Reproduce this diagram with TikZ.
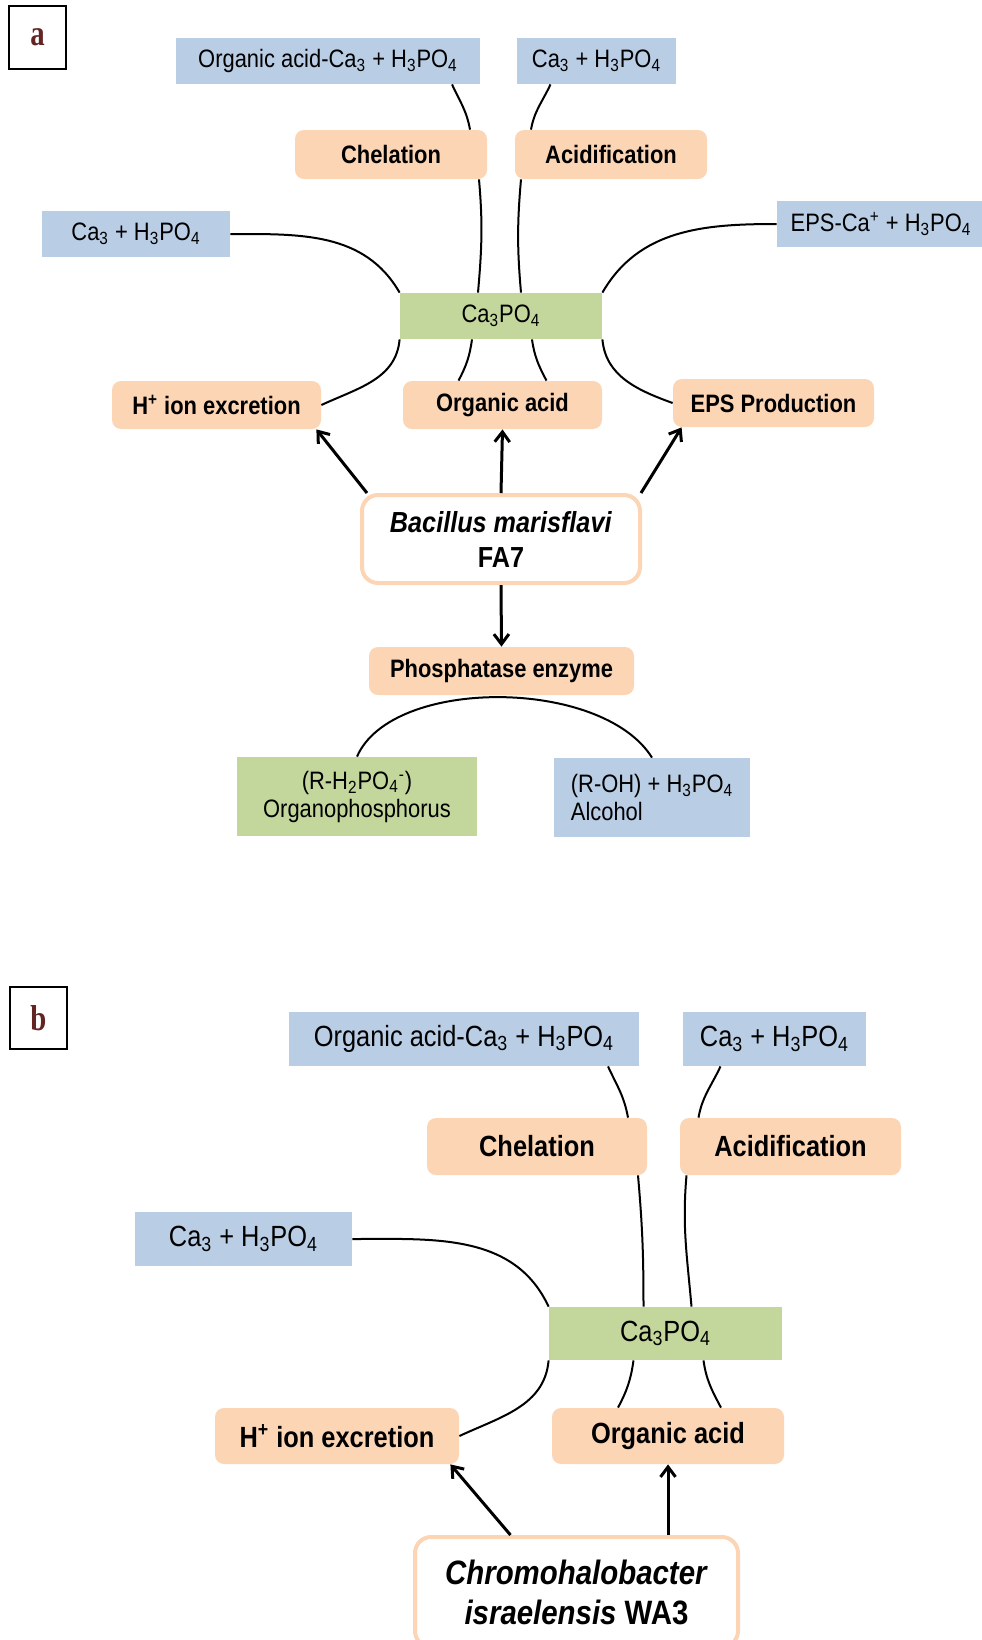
\documentclass[tikz,border=0pt]{standalone}
\usepackage{fontspec}
\setmainfont{Liberation Sans}[FakeStretch=0.87]
\newfontfamily\panelfont{Liberation Serif}[FakeStretch=0.8]
\usetikzlibrary{arrows.meta}

\definecolor{boxblue}{HTML}{B9CDE5}
\definecolor{boxorange}{HTML}{FCD5B5}
\definecolor{boxgreen}{HTML}{C3D69B}
\definecolor{panelred}{HTML}{632523}

\newcommand\sizea{\fontsize{12.6pt}{14pt}\selectfont}
\newcommand\sizeb{\fontsize{14.6pt}{17pt}\selectfont}
\newcommand\subs[1]{\textsubscript{#1}}
\newcommand\supr[1]{\textsuperscript{#1}}

\begin{document}
\begin{tikzpicture}[x=0.5pt,y=-0.5pt,
  >={Straight Barb[length=5pt,width=7.5pt]},
  box/.style={inner sep=0pt,align=center},
  bluebox/.style={box,fill=boxblue},
  greenbox/.style={box,fill=boxgreen},
  orangebox/.style={box,fill=boxorange,rounded corners=4.5pt,font=\bfseries},
  strainbox/.style={box,fill=white,draw=boxorange,line width=2pt,rounded corners=8pt,font=\bfseries},
  panellabel/.style={draw=black,line width=0.6pt,inner sep=0pt,text=panelred,
    font=\panelfont\fontsize{18pt}{20pt}\selectfont\bfseries},
  link/.style={line width=1pt},
  push/.style={->,line width=1.5pt}]
\useasboundingbox (0,0) rectangle (981,1640);

% Panel a
\begin{scope}[node font=\sizea]
\node[panellabel,minimum width=28.5pt,minimum height=31.5pt] (lbla) at (37.5,37.5) {a};
\node[bluebox,minimum width=152pt,minimum height=23pt] (acidCaA) at (328,61) {Organic acid-Ca\subs{3} + H\subs{3}PO\subs{4}};
\node[bluebox,minimum width=79.5pt,minimum height=23pt] (caTopA) at (596.5,61) {Ca\subs{3} + H\subs{3}PO\subs{4}};
\node[orangebox,minimum width=96pt,minimum height=24.5pt] (chelA) at (391,154.5) {Chelation};
\node[orangebox,minimum width=96pt,minimum height=24.5pt] (acidifA) at (611,154.5) {Acidification};
\node[bluebox,minimum width=94pt,minimum height=23pt] (caLeftA) at (136,234) {Ca\subs{3} + H\subs{3}PO\subs{4}};
\node[bluebox,minimum width=104pt,minimum height=23pt] (epsCaA) at (881,224) {EPS-Ca\supr{+} + H\subs{3}PO\subs{4}};
\node[greenbox,minimum width=101pt,minimum height=23pt] (caPO4A) at (501,316) {Ca\subs{3}PO\subs{4}};
\node[orangebox,minimum width=104.5pt,minimum height=24pt] (hionA) at (216.5,405) {H\supr{+} ion excretion};
\node[orangebox,minimum width=99.5pt,minimum height=24pt] (orgacA) at (502.5,405) {Organic acid};
\node[orangebox,minimum width=100.5pt,minimum height=24pt] (epsA) at (773.5,403) {EPS Production};
\node[strainbox,node font=\fontsize{14.5pt}{17.5pt}\selectfont,minimum width=139pt,minimum height=44pt] (bacA) at (501,539)
  {\textit{Bacillus marisflavi}\\FA7};
\node[orangebox,minimum width=132.5pt,minimum height=24pt] (phosA) at (501.5,671) {Phosphatase enzyme};
\node[greenbox,minimum width=120pt,minimum height=39.5pt] (orgPA) at (357,796.5)
  {(R-H\subs{2}PO\subs{4}\supr{-})\\Organophosphorus};
\node[bluebox,align=left,minimum width=98pt,minimum height=39.5pt] (alcA) at (652,797.5)
  {(R-OH) + H\subs{3}PO\subs{4}\\Alcohol};
\end{scope}

% The curved links of panel a
\draw[link] ([xshift=62pt]acidCaA.south) to[out=-65,in=100] ([xshift=39.5pt]chelA.north);
\draw[link] ([xshift=44pt]chelA.south) to[out=-85,in=85] ([xshift=-11.5pt]caPO4A.north);
\draw[link] ([xshift=-23pt]caTopA.south) to[out=-115,in=80] ([xshift=-40pt]acidifA.north);
\draw[link] ([xshift=-45pt]acidifA.south) to[out=-95,in=95] ([xshift=10pt]caPO4A.north);
\draw[link] (caLeftA.east) to[out=0,in=120] (caPO4A.north west);
\draw[link] (epsCaA.west) to[out=180,in=60] (caPO4A.north east);
\draw[link] (caPO4A.south west) to[out=-95,in=25] (hionA.east);
\draw[link] ([xshift=-14.5pt]caPO4A.south) to[out=-98,in=62] ([xshift=-22pt]orgacA.north);
\draw[link] ([xshift=15.5pt]caPO4A.south) to[out=-82,in=118] ([xshift=22pt]orgacA.north);
\draw[link] (caPO4A.south east) to[out=-85,in=160] (epsA.west);
\draw[link] (orgPA.north) .. controls +(35,-80) and +(-50,-80) .. (alcA.north);

% Arrows from the strain of panel a
\draw[push] ([xshift=-67pt]bacA.north) -- ([xshift=-2.5pt]hionA.south east);
\draw[push] (bacA.north) -- (orgacA.south);
\draw[push] ([xshift=70pt]bacA.north) -- ([xshift=4.5pt]epsA.south west);
\draw[push] (bacA.south) -- (phosA.north);

% Panel b
\begin{scope}[node font=\sizeb]
\node[panellabel,minimum width=28.5pt,minimum height=31pt] (lblb) at (38.5,1018) {b};
\node[bluebox,minimum width=175pt,minimum height=27pt] (acidCaB) at (464,1039) {Organic acid-Ca\subs{3} + H\subs{3}PO\subs{4}};
\node[bluebox,minimum width=91.5pt,minimum height=27pt] (caTopB) at (774.5,1039) {Ca\subs{3} + H\subs{3}PO\subs{4}};
\node[orangebox,minimum width=110pt,minimum height=28.5pt] (chelB) at (537,1146.5) {Chelation};
\node[orangebox,minimum width=110.5pt,minimum height=28.5pt] (acidifB) at (790.5,1146.5) {Acidification};
\node[bluebox,minimum width=108.5pt,minimum height=27pt] (caLeftB) at (243.5,1239) {Ca\subs{3} + H\subs{3}PO\subs{4}};
\node[greenbox,minimum width=116.5pt,minimum height=26.5pt] (caPO4B) at (665.5,1333.5) {Ca\subs{3}PO\subs{4}};
\node[orangebox,minimum width=122pt,minimum height=28pt] (hionB) at (337,1436) {H\supr{+} ion excretion};
\node[orangebox,minimum width=116pt,minimum height=28pt] (orgacB) at (668,1436) {Organic acid};
\node[strainbox,node font=\fontsize{16.9pt}{20pt}\selectfont,minimum width=161.5pt,minimum height=55pt] (chromoB) at (576.5,1592)
  {\textit{Chromohalobacter}\\\textit{israelensis} WA3};
\end{scope}

% The curved links of panel b
\draw[link] ([xshift=72pt]acidCaB.south) to[out=-65,in=100] ([xshift=45.5pt]chelB.north);
\draw[link] ([xshift=50.5pt]chelB.south) to[out=-85,in=90] ([xshift=-11pt]caPO4B.north);
\draw[link] ([xshift=-27pt]caTopB.south) to[out=-115,in=80] ([xshift=-46pt]acidifB.north);
\draw[link] ([xshift=-52pt]acidifB.south) to[out=-95,in=95] ([xshift=13pt]caPO4B.north);
\draw[link] (caLeftB.east) to[out=0,in=115] (caPO4B.north west);
\draw[link] (caPO4B.south west) to[out=-95,in=25] (hionB.east);
\draw[link] ([xshift=-16pt]caPO4B.south) to[out=-98,in=62] ([xshift=-25pt]orgacB.north);
\draw[link] ([xshift=19pt]caPO4B.south) to[out=-82,in=118] ([xshift=26.5pt]orgacB.north);

% Arrows from the strain of panel b
\draw[push] ([xshift=-33pt]chromoB.north) -- ([xshift=-4.5pt]hionB.south east);
\draw[push] (chromoB.north -| orgacB.south) -- (orgacB.south);
\end{tikzpicture}
\end{document}
